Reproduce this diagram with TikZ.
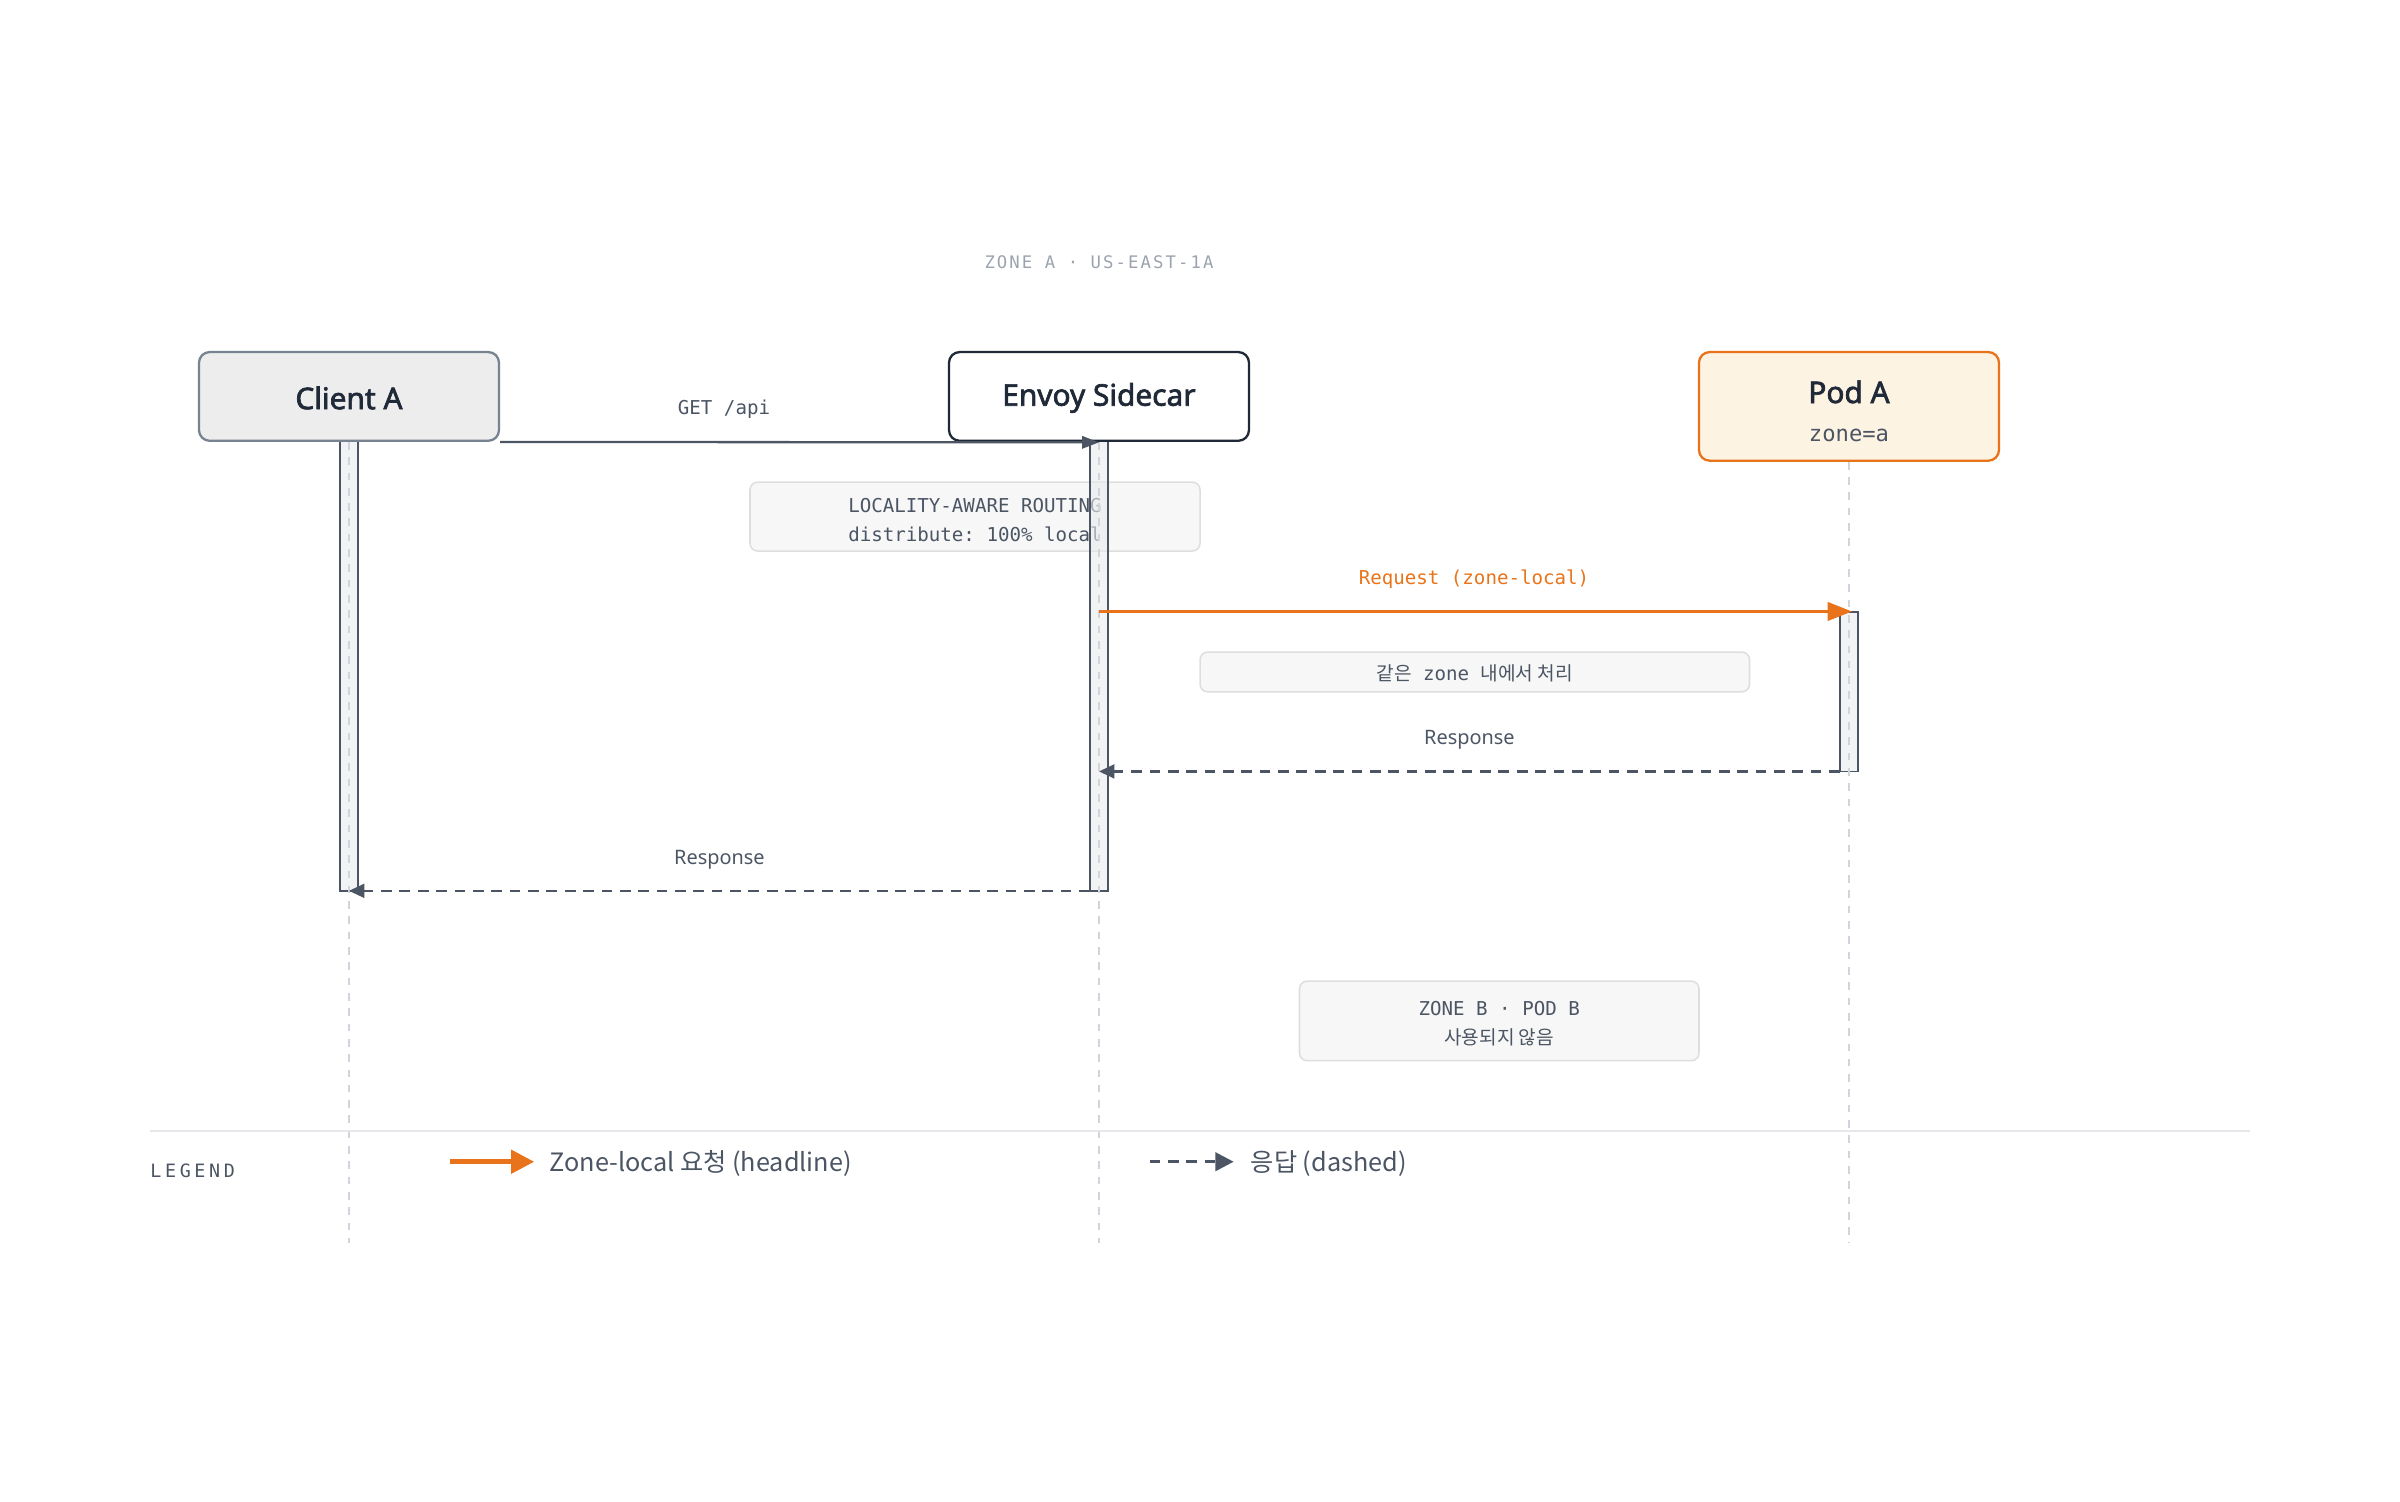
\documentclass[tikz,border=0pt]{standalone}
\usepackage{fontspec}
\setmainfont{Noto Sans}
\setmonofont{DejaVu Sans Mono}
\newfontfamily\kr{Noto Sans CJK KR}
\newfontfamily\actorfont{Noto Sans}[FakeBold=2.2]
\newfontfamily\monosp[LetterSpace=12]{DejaVu Sans Mono}
\newfontfamily\monolg[LetterSpace=20]{DejaVu Sans Mono}
\usetikzlibrary{arrows.meta}
\definecolor{ink}{HTML}{1F2937}
\definecolor{slate}{HTML}{4B5563}
\definecolor{clientdraw}{HTML}{778391}
\definecolor{clientfill}{HTML}{EDEDED}
\definecolor{lifegray}{HTML}{D1D5DB}
\definecolor{notefill}{HTML}{F7F7F7}
\definecolor{notedraw}{HTML}{DEDEDE}
\definecolor{accent}{HTML}{E8731A}
\definecolor{podfill}{HTML}{FDF3E3}
\definecolor{barfill}{HTML}{E9EBEE}
\definecolor{titlegray}{HTML}{9CA3AF}
\definecolor{sepgray}{HTML}{E5E7EB}
\begin{document}
\begin{tikzpicture}[x=1pt,y=-1pt,
  actor/.style={draw, rounded corners=7pt, minimum width=196pt, minimum height=58pt, line width=1.5pt, inner sep=0pt},
  actortext/.style={font=\actorfont\fontsize{19.5}{23}\selectfont, text=ink, inner sep=0pt},
  notebox/.style={draw=notedraw, fill=notefill, rounded corners=5pt, line width=1pt, inner sep=0pt},
  notetext/.style={font=\ttfamily\fontsize{12.5}{19}\selectfont, text=slate, align=center, inner sep=0pt},
  actbar/.style={draw=slate, fill=barfill, fill opacity=0.6, line width=1.2pt, minimum width=12pt, inner sep=0pt},
  lifeline/.style={draw=lifegray, line width=1pt, dash pattern=on 5pt off 5pt},
  msgline/.style={draw=slate, line width=1.5pt},
  resp/.style={draw=slate, line width=1.5pt, dash pattern=on 7pt off 5pt, -{Triangle[length=10pt,width=9pt]}},
  req/.style={draw=accent, line width=2pt, -{Triangle[length=16pt,width=12pt]}},
  monolbl/.style={font=\ttfamily\fontsize{12.5}{15}\selectfont, inner sep=0pt},
  sanslbl/.style={font=\fontsize{13}{16}\selectfont, text=slate, inner sep=0pt}
]
\useasboundingbox (0,0) rectangle (1568,981);

% title
\node[font=\monosp\fontsize{11.3}{13}\selectfont, text=titlegray, inner sep=0pt] (title) at (718,171) {ZONE A · US-EAST-1A};

% notes (under bars)
\node[notebox, minimum width=294pt, minimum height=45pt] (noteroute) at (637,337.5) {};
\node[notetext] (noteroutet) at (637,339.5) {LOCALITY-AWARE ROUTING\\distribute: 100\% local};
\node[notebox, minimum width=359pt, minimum height=26pt] (notesame) at (963.5,439) {};
\node[notetext] (notesamet) at (963.5,440) {{\kr 같은} zone {\kr 내에서 처리}};
\node[notebox, minimum width=261pt, minimum height=52pt] (notezb) at (979.5,667) {};
\node[notetext] (notezbt) at (979.5,668.5) {ZONE B · POD B\\{\kr 사용되지 않음}};

% activation bars
\node[actbar, minimum height=294pt] (barA) at (228,435) {};
\node[actbar, minimum height=294pt] (barE) at (718,435) {};
\node[actbar, minimum height=104pt] (barP) at (1208,452) {};

% actors
\node[actor, draw=clientdraw, fill=clientfill] (clientA) at (228,259) {};
\node[actortext] (clientAt) at (228,260) {Client A};
\node[actor, draw=ink, fill=white] (envoy) at (718,259) {};
\node[actortext] (envoyt) at (718,260) {Envoy Sidecar};
\node[actor, draw=accent, fill=podfill, minimum height=71pt] (podA) at (1208,265.5) {};
\node[actortext] (podAt) at (1208,256) {Pod A};
\node[font=\ttfamily\fontsize{14.5}{17}\selectfont, text=slate, inner sep=0pt] (podAz) at (1208,284.5) {zone=a};

% lifelines
\coordinate (endA) at (228,812);
\coordinate (endE) at (718,812);
\coordinate (endP) at (1208,812);
\draw[lifeline] (clientA.south) -- (endA);
\draw[lifeline] (envoy.south) -- (endE);
\draw[lifeline] (podA.south) -- (endP);

% messages
\coordinate (getE) at (718,289);
\draw[msgline, -{Triangle[length=11pt,width=8pt]}] (clientA.south east) -- (getE);
\node[monolbl, text=slate] (getl) at (473,267.5) {GET /api};

\coordinate (reqS) at (718,399.5);
\coordinate (reqE) at (1210,399.5);
\draw[req] (reqS) -- (reqE);
\node[monolbl, text=accent] (reql) at (963,378.5) {Request (zone-local)};

\coordinate (r1S) at (1202,504);
\coordinate (r1E) at (718,504);
\draw[resp] (r1S) -- (r1E);
\node[sanslbl] (r1l) at (960,483.5) {Response};

\coordinate (r2S) at (712,582);
\coordinate (r2E) at (228,582);
\draw[resp] (r2S) -- (r2E);
\node[sanslbl] (r2l) at (470,561.5) {Response};

% legend
\coordinate (sepL) at (98,739);
\coordinate (sepR) at (1470,739);
\draw[draw=sepgray, line width=1.2pt] (sepL) -- (sepR);
\node[font=\monolg\fontsize{12}{14}\selectfont, text=slate, anchor=west, inner sep=0pt] (legend) at (98,765) {LEGEND};
\coordinate (lg1S) at (294,759);
\coordinate (lg1E) at (349,759);
\draw[draw=accent, line width=3pt, -{Triangle[length=15pt,width=15pt]}] (lg1S) -- (lg1E);
\node[font=\kr\fontsize{16.5}{20}\selectfont, text=slate, anchor=west, inner sep=0pt] (lg1t) at (359,760) {Zone-local 요청 (headline)};
\coordinate (lg2S) at (751,759);
\coordinate (lg2E) at (806,759);
\draw[draw=slate, line width=2pt, dash pattern=on 7pt off 5pt, -{Triangle[length=12pt,width=12pt]}] (lg2S) -- (lg2E);
\node[font=\kr\fontsize{16.5}{20}\selectfont, text=slate, anchor=west, inner sep=0pt] (lg2t) at (817,760) {응답 (dashed)};
\end{tikzpicture}
\end{document}
